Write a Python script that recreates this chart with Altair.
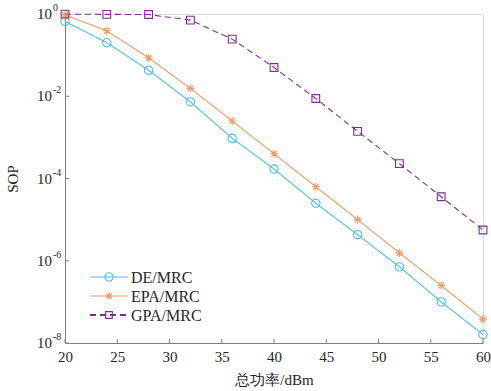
import altair as alt
import pandas as pd

power = [20, 24, 28, 32, 36, 40, 44, 48, 52, 56, 60]
de_mrc = [0.66, 0.20, 0.043, 0.0073, 9.5e-4, 1.7e-4, 2.5e-5, 4.3e-6, 7.1e-7, 1.0e-7, 1.6e-8]
epa_mrc = [0.95, 0.39, 0.086, 0.0155, 2.5e-3, 4.0e-4, 6.3e-5, 1.0e-5, 1.55e-6, 2.5e-7, 3.8e-8]
gpa_mrc = [0.99, 0.98, 0.97, 0.71, 0.245, 0.05, 0.0088, 1.4e-3, 2.3e-4, 3.6e-5, 5.6e-6]

series_names = ["DE/MRC", "EPA/MRC", "GPA/MRC"]
colors = ["#4DBEEE", "#F39A66", "#7E2F8E"]
x_ticks = [20, 25, 30, 35, 40, 45, 50, 55, 60]
y_ticks = [1, 1e-2, 1e-4, 1e-6, 1e-8]
y_exps = ["0", "-2", "-4", "-6", "-8"]

FONT = "Liberation Serif"
W, H = 418, 329

ASTER = "M-1,0H1M0,-1V1M-0.7,-0.7L0.7,0.7M-0.7,0.7L0.7,-0.7"
shapes = ["circle", ASTER, "square"]
sizes = [70, 60, 45]
dashes = [[1, 0], [1, 0], [6, 4]]
widths = [1.1, 1.1, 1.9]

rows = []
for name, vals in zip(series_names, [de_mrc, epa_mrc, gpa_mrc]):
    for p, v in zip(power, vals):
        rows.append({"x": p, "y": v, "series": name})
df = pd.DataFrame(rows)

xs = alt.Scale(domain=[20, 60], nice=False, zero=False)
ys = alt.Scale(type="log", domain=[1e-8, 1], nice=False)
cs = alt.Scale(domain=series_names, range=colors)

x_enc = alt.X("x:Q", scale=xs,
              axis=alt.Axis(values=x_ticks, title="总功率/dBm", grid=False,
                            tickSize=0, labelPadding=6, titlePadding=8,
                            labelFont=FONT, labelFontSize=15, labelColor="#262626",
                            titleFont=FONT, titleFontSize=15,
                            titleFontWeight="normal", titleColor="#262626",
                            domainColor="#808080", labelFlush=False))
y_enc = alt.Y("y:Q", scale=ys,
              axis=alt.Axis(values=y_ticks, labels=False, title="SOP", grid=False,
                            tickSize=0, titlePadding=44,
                            titleFont=FONT, titleFontSize=15, titleFontWeight="normal",
                            titleColor="#262626", domainColor="#808080"))

lines = alt.Chart(df).mark_line(clip=False).encode(
    x=x_enc, y=y_enc,
    color=alt.Color("series:N", scale=cs, legend=None),
    strokeDash=alt.StrokeDash("series:N", scale=alt.Scale(domain=series_names, range=dashes), legend=None),
    strokeWidth=alt.StrokeWidth("series:N", scale=alt.Scale(domain=series_names, range=widths), legend=None),
)
points = alt.Chart(df).mark_point(filled=False, strokeWidth=1.1, opacity=1).encode(
    x=alt.X("x:Q", scale=xs),
    y=alt.Y("y:Q", scale=ys),
    color=alt.Color("series:N", scale=cs, legend=None),
    shape=alt.Shape("series:N", scale=alt.Scale(domain=series_names, range=shapes), legend=None),
    size=alt.Size("series:N", scale=alt.Scale(domain=series_names, range=sizes), legend=None),
)

xt = pd.DataFrame({"t": x_ticks})
yt = pd.DataFrame({"t": y_ticks, "e": y_exps, "b": ["10"] * len(y_ticks)})
xtick_marks = alt.Chart(xt).mark_rule(color="#808080", strokeWidth=1).encode(
    x=alt.X("t:Q", scale=xs), y=alt.value(H), y2=alt.value(H - 4))
ytick_marks = alt.Chart(yt).mark_rule(color="#808080", strokeWidth=1).encode(
    y=alt.Y("t:Q", scale=ys), x=alt.value(0), x2=alt.value(4))
ylab_base = alt.Chart(yt).mark_text(align="right", baseline="middle", font=FONT,
                                    fontSize=15, color="#262626").encode(
    y=alt.Y("t:Q", scale=ys), x=alt.value(-13), text="b:N")
ylab_exp = alt.Chart(yt).mark_text(align="left", baseline="middle", font=FONT,
                                   fontSize=10, color="#262626", dy=-6).encode(
    y=alt.Y("t:Q", scale=ys), x=alt.value(-12), text="e:N")

legend_layers = []
for i, name in enumerate(series_names):
    yy = 263 + 19 * i
    ld = pd.DataFrame({"series": [name]})
    legend_layers.append(alt.Chart(ld).mark_rule(
        color=colors[i], strokeDash=dashes[i], strokeWidth=widths[i]).encode(
        x=alt.value(25), x2=alt.value(63), y=alt.value(yy)))
    legend_layers.append(alt.Chart(ld).mark_point(
        color=colors[i], shape=shapes[i], size=sizes[i], filled=False,
        strokeWidth=1.1, opacity=1).encode(x=alt.value(44), y=alt.value(yy)))
    legend_layers.append(alt.Chart(ld).mark_text(
        align="left", baseline="middle", font=FONT, fontSize=16,
        color="#262626").encode(x=alt.value(66), y=alt.value(yy + 1), text="series:N"))

chart = alt.layer(lines, points, xtick_marks, ytick_marks, ylab_base, ylab_exp,
                  *legend_layers).properties(
    width=W, height=H,
    autosize=alt.AutoSizeParams(type="none"),
    padding={"left": 65, "top": 14, "right": 8, "bottom": 48},
).configure_view(stroke=None).configure(background="white")

chart.save("out.html", embed_options={"renderer": "svg", "actions": False})
